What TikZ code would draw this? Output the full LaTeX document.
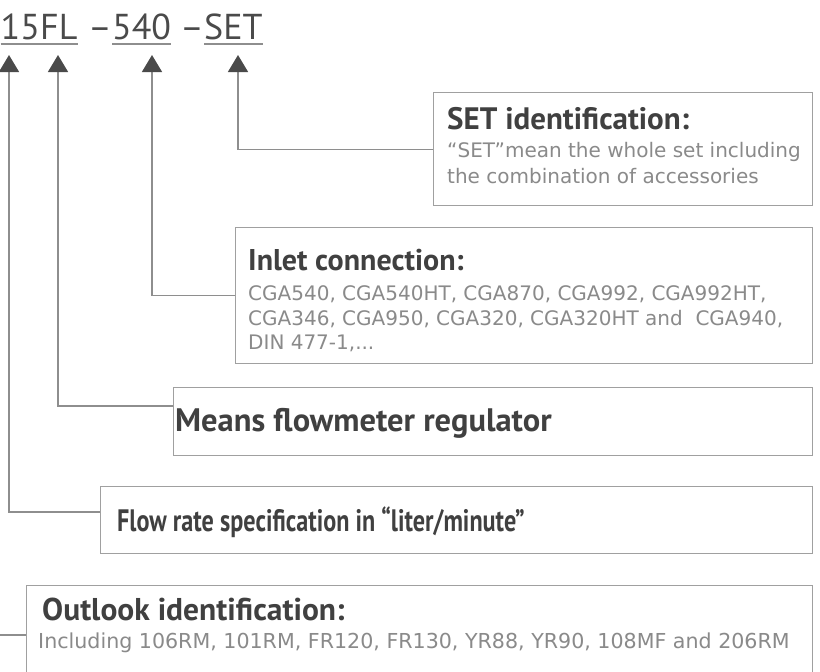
\documentclass[tikz,border=0pt]{standalone}
\usepackage{fontspec}
\usetikzlibrary{arrows.meta}
\newfontfamily\headfont{PT Sans}
\newfontfamily\bodyfont{DejaVu Sans}
\definecolor{linegray}{HTML}{8E8E8E}
\definecolor{boxgray}{HTML}{A0A0A0}
\definecolor{tipgray}{HTML}{4A4A4A}
\definecolor{titlegray}{HTML}{404040}
\definecolor{textgray}{HTML}{8A8A8A}
\begin{document}
\begin{tikzpicture}[x=1pt,y=-1pt,
  infobox/.style={draw=boxgray,line width=1.4pt,fill=white,anchor=north west,inner sep=0pt},
  link/.style={draw=linegray,line width=1.4pt},
  tipped/.style={link,-{Triangle[width=20pt,length=17pt,color=tipgray]}},
  code/.style={anchor=base west,inner sep=0pt,text=tipgray,font=\headfont\fontsize{36}{40}\selectfont},
  title/.style={anchor=base west,inner sep=0pt,text=titlegray,font=\headfont\bfseries\fontsize{#1}{34}\selectfont},
  body/.style={anchor=base west,inner sep=0pt,text=textgray,font=\bodyfont\fontsize{#1}{24}\selectfont},
  body/.default=20]
\useasboundingbox (0,0) rectangle (820,672);
\clip (0,0) rectangle (820,672);

\node[code] (n15) at (0.5,39) {15};
\node[code] (nFL) at (40,39) {FL};
\node[code] (d1) at (88,39) {–};
\node[code] (n540) at (112,39) {540};
\node[code] (d2) at (180,39) {–};
\node[code] (nSET) at (204,39) {SET};
\foreach \n in {n15,nFL,n540,nSET}
  \draw[link] ([yshift=-5pt]\n.base west) -- ([yshift=-5pt]\n.base east);

\coordinate (t15) at (9,55);
\coordinate (tFL) at (58,55);
\coordinate (t540) at (152,55);
\coordinate (tSET) at (238,55);

\node[infobox,minimum width=379pt,minimum height=113pt] (setbox) at (433,92) {};
\node[infobox,minimum width=577pt,minimum height=136pt] (inletbox) at (235,227) {};
\node[infobox,minimum width=639pt,minimum height=68pt] (meansbox) at (173,387) {};
\node[infobox,minimum width=712pt,minimum height=67pt] (flowbox) at (100,486) {};
\node[infobox,minimum width=786pt,minimum height=115pt] (outbox) at (26,585) {};

\coordinate (meansin) at (173,406);
\coordinate (flowin) at (100,512);
\coordinate (outfrom) at (-5,635);
\coordinate (outin) at (26,635);

\draw[tipped] (setbox.west) -| (tSET);
\draw[tipped] (inletbox.west) -| (t540);
\draw[tipped] (meansin) -| (tFL);
\draw[tipped] (flowin) -| (t15);
\draw[link] (outfrom) -- (outin);

\node[title=31] (settitle) at (447,129) {SET identification:};
\node[body] (setline1) at (447,157) {“SET”mean the whole set including};
\node[body] (setline2) at (447,183) {the combination of accessories};

\node[title=30] (inlettitle) at (248,270) {Inlet connection:};
\node[body] (inletline1) at (248,300) {CGA540, CGA540HT, CGA870, CGA992, CGA992HT,};
\node[body] (inletline2) at (248,325) {CGA346, CGA950, CGA320, CGA320HT and\ \ CGA940,};
\node[body] (inletline3) at (248,349) {DIN 477-1,...};

\node[title=32.5] (meanstitle) at (175,431) {Means flowmeter regulator};
\node[title=31] (flowtitle) at (117,531) {\scalebox{0.78}[1]{Flow rate specification in “liter/minute”}};

\node[title=31.5] (outtitle) at (42,620) {Outlook identification:};
\node[body=20.6] (outline1) at (38,648) {Including 106RM, 101RM, FR120, FR130, YR88, YR90, 108MF and 206RM};
\end{tikzpicture}
\end{document}
